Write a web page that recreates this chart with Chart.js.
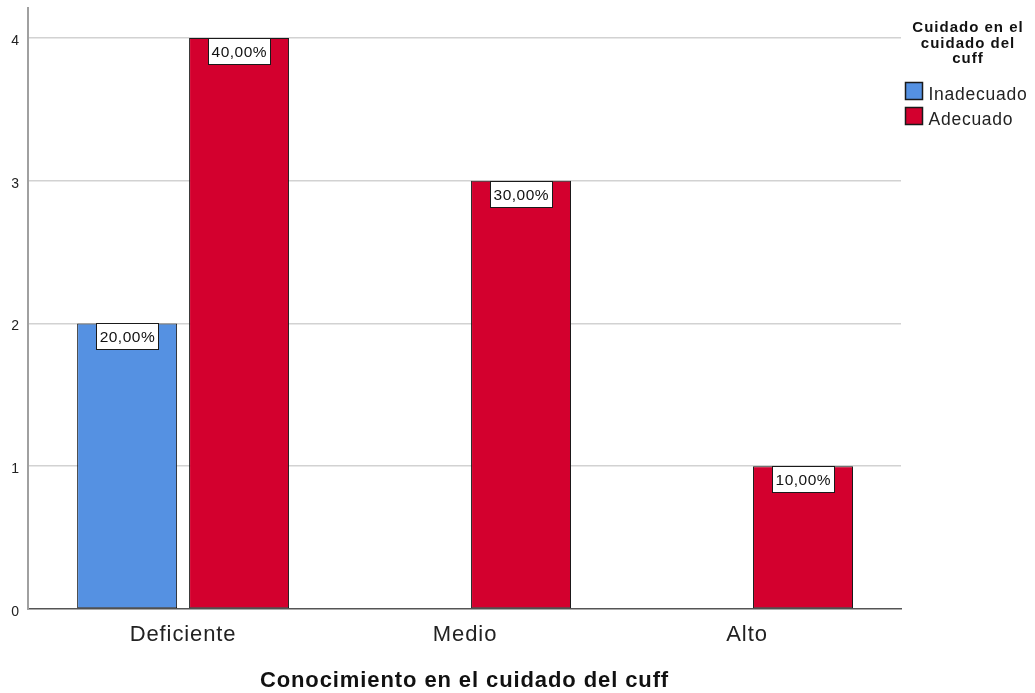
<!DOCTYPE html>
<html>
<head>
<meta charset="utf-8">
<script src="https://cdn.jsdelivr.net/npm/chart.js@4"></script>
<style>
  html, body { margin: 0; padding: 0; background: #fff; }
  #wrap { width: 1035px; height: 693px; position: relative; }
</style>
</head>
<body>
<div id="wrap"><canvas id="cuffChart"></canvas></div>
<script>
const categories = ['Deficiente', 'Medio', 'Alto'];
const inadecuado = [2, null, null];
const adecuado = [4, 3, 1];
const yTicks = [0, 1, 2, 3, 4];

const seriesNames = ['Inadecuado', 'Adecuado'];
const legendTitle = ['Cuidado en el', 'cuidado del', 'cuff'];
const xTitle = 'Conocimiento en el cuidado del cuff';

const colors = ['#5591e2', '#d3002e'];
const FONT = "'Liberation Sans', Arial, sans-serif";

const total = [...inadecuado, ...adecuado].reduce((s, v) => s + (v || 0), 0);
const pct = v => (v / total * 100).toFixed(2).replace('.', ',') + '%';

const toPoints = arr => arr.map((v, i) => ({ x: i, y: v }));

// slightly loose tracking on the axis text
const tracking = {
    id: 'tracking',
    beforeDraw(chart) { chart.ctx.letterSpacing = '0.9px'; },
    afterDraw(chart) { chart.ctx.letterSpacing = '0px'; }
};

// white boxes with the percentage at the top of each bar
const barLabels = {
    id: 'barLabels',
    afterDatasetsDraw(chart) {
        const ctx = chart.ctx;
        ctx.save();
        ctx.letterSpacing = '0.5px';
        ctx.font = '15.5px ' + FONT;
        ctx.textAlign = 'center';
        ctx.textBaseline = 'middle';
        chart.data.datasets.forEach((ds, di) => {
            const meta = chart.getDatasetMeta(di);
            meta.data.forEach((el, i) => {
                const v = ds.data[i].y;
                if (v == null) return;
                const txt = pct(v);
                const w = Math.round(ctx.measureText(txt).width + 6);
                const h = 26;
                const x0 = Math.round(el.x - w / 2) + 0.5;
                const y0 = Math.round(el.y) + 0.5;
                ctx.fillStyle = '#fff';
                ctx.fillRect(x0, y0, w, h);
                ctx.strokeStyle = '#1a1a1a';
                ctx.lineWidth = 1;
                ctx.strokeRect(x0, y0, w, h);
                ctx.fillStyle = '#111';
                ctx.fillText(txt, el.x + 0.3, y0 + h / 2 + 1);
            });
        });
        ctx.restore();
    }
};

// legend block on the right
const sideLegend = {
    id: 'sideLegend',
    afterDraw(chart) {
        const ctx = chart.ctx;
        ctx.save();
        ctx.fillStyle = '#111';
        ctx.font = 'bold 15px ' + FONT;
        ctx.letterSpacing = '1px';
        ctx.textAlign = 'center';
        ctx.textBaseline = 'alphabetic';
        legendTitle.forEach((line, i) => ctx.fillText(line, 968, 32 + i * 15.5));

        ctx.font = '17.5px ' + FONT;
        ctx.letterSpacing = '0.75px';
        ctx.textAlign = 'left';
        chart.data.datasets.forEach((ds, i) => {
            const top = 82 + i * 25;
            ctx.fillStyle = ds.backgroundColor;
            ctx.fillRect(905.5, top + 0.5, 17, 17);
            ctx.strokeStyle = '#1a1a1a';
            ctx.lineWidth = 1.5;
            ctx.strokeRect(905.5, top + 0.5, 17, 17);
            ctx.fillStyle = '#222';
            ctx.fillText(ds.label, 928.5, top + 17.5);
        });
        ctx.restore();
    }
};

const chart = new Chart(document.getElementById('cuffChart'), {
    type: 'bar',
    data: {
        datasets: [inadecuado, adecuado].map((arr, i) => ({
            label: seriesNames[i],
            data: toPoints(arr),
            backgroundColor: colors[i],
            borderColor: '#1a1a1a',
            borderWidth: 1,
            borderSkipped: false,
            categoryPercentage: 0.794,
            barPercentage: 0.893
        }))
    },
    options: {
        responsive: true,
        maintainAspectRatio: false,
        animation: false,
        layout: { padding: { top: 8, right: 134, left: 0, bottom: 0 } },
        plugins: {
            legend: { display: false },
            tooltip: { enabled: false }
        },
        scales: {
            x: {
                type: 'linear',
                offset: false,
                min: -0.55,
                max: 2.546,
                afterFit: s => {
                    s.height = 84;
                    s.paddingLeft = 0;
                    s.paddingRight = 0;
                },
                grid: { display: false },
                border: { color: '#555', width: 1.5 },
                ticks: {
                    stepSize: 1,
                    includeBounds: false,
                    maxRotation: 0,
                    autoSkip: false,
                    padding: 5,
                    color: '#222',
                    font: { family: FONT, size: 22 },
                    callback: v => categories[v] ?? ''
                },
                title: {
                    display: true,
                    text: xTitle,
                    color: '#111',
                    font: { family: FONT, size: 22, weight: 'bold', lineHeight: 1 },
                    padding: { top: 0, bottom: 1 }
                }
            },
            y: {
                min: 0,
                max: 4.21,
                afterFit: s => {
                    s.width = 28;
                    s.paddingTop = 0;
                    s.paddingBottom = 0;
                },
                afterBuildTicks: s => { s.ticks = yTicks.map(v => ({ value: v })); },
                grid: {
                    drawTicks: false,
                    lineWidth: 1.5,
                    color: c => c.tick && c.tick.value === 0 ? 'rgba(0,0,0,0)' : '#d2d2d2'
                },
                border: { color: '#a0a0a0', width: 2 },
                ticks: {
                    padding: 8,
                    labelOffset: 3,
                    color: '#222',
                    font: { family: FONT, size: 14 }
                }
            }
        }
    },
    plugins: [tracking, barLabels, sideLegend]
});
</script>
</body>
</html>
